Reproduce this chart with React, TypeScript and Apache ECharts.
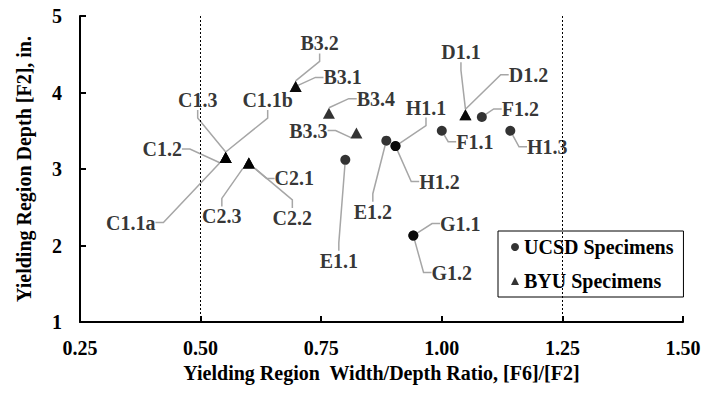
import React, { useEffect, useRef } from "react";
import * as echarts from "echarts";

// UCSD specimens
const ucsdNames = ["E1.1", "E1.2", "F1.1", "F1.2", "G1.1", "G1.2", "H1.1", "H1.2", "H1.3"];
const ucsdX = [0.8, 0.885, 1.0, 1.083, 0.941, 0.941, 0.904, 0.904, 1.142];
const ucsdY = [3.12, 3.37, 3.5, 3.68, 2.13, 2.13, 3.3, 3.3, 3.5];

// BYU specimens
const byuNames = ["B3.1", "B3.2", "B3.3", "B3.4", "C1.1a", "C1.1b", "C1.2", "C1.3", "C2.1", "C2.2", "C2.3", "D1.1", "D1.2"];
const byuX = [0.697, 0.697, 0.823, 0.766, 0.552, 0.552, 0.552, 0.552, 0.6, 0.6, 0.6, 1.049, 1.049];
const byuY = [4.08, 4.08, 3.47, 3.73, 3.15, 3.15, 3.15, 3.15, 3.08, 3.08, 3.08, 3.71, 3.71];

const xTicks = [0.25, 0.5, 0.75, 1.0, 1.25, 1.5];
const yTicks = [1, 2, 3, 4, 5];
const refLinesX = [0.5, 1.25];

// label offsets (px) from the marker centre – styling only
const LABEL_OFFSETS: Record<string, [number, number]> = {
  "B3.2": [24, -43],
  "B3.1": [47, -9],
  "B3.4": [47, -14.5],
  "B3.3": [-48, -2.5],
  "C1.3": [-28, -57.5],
  "C1.1b": [42, -57.5],
  "C1.2": [-63.5, -8.5],
  "C1.1a": [-95, 65],
  "C2.1": [45.5, 15.5],
  "C2.3": [-27, 53.5],
  "C2.2": [43.5, 55],
  "E1.1": [-6.5, 101],
  "E1.2": [-13.5, 71],
  "H1.1": [30.5, -38.5],
  "H1.2": [44, 35.5],
  "D1.1": [-4.5, -62.5],
  "D1.2": [63, -40],
  "F1.2": [38.5, -8],
  "F1.1": [33, 11],
  "H1.3": [37, 16],
  "G1.1": [47, -12],
  "G1.2": [38.5, 37],
};

const FONT = '"Liberation Serif", "Times New Roman", serif';

export default function App() {
  const ref = useRef<HTMLDivElement>(null);
  useEffect(() => {
    if (!ref.current) return;
    const chart = echarts.init(ref.current, null, { renderer: "svg" });
    const textBase = { fontFamily: FONT, fontWeight: "bold" as const, color: "#000", fontSize: 20 };
    const labelCfg = {
      show: true,
      position: "inside",
      formatter: "{b}",
      ...textBase,
    };
    const labelLineCfg = {
      show: true,
      length2: 8,
      lineStyle: { color: "#a6a6a6", width: 1.5 },
    };
    const labelLayout = (p: any) => {
      const o = LABEL_OFFSETS[p.text] || [0, 0];
      const cx = p.rect.x + p.rect.width / 2;
      const cy = p.rect.y + p.rect.height / 2;
      return { x: cx + o[0], y: cy + o[1], align: "center", verticalAlign: "middle" };
    };
    chart.setOption({
      animation: false,
      backgroundColor: "#fff",
      grid: { left: 80, right: 21, top: 16, bottom: 72, containLabel: false, outerBoundsMode: "none" },
      xAxis: {
        type: "value",
        min: xTicks[0],
        max: xTicks[xTicks.length - 1],
        interval: 0.25,
        name: "Yielding Region  Width/Depth Ratio, [F6]/[F2]",
        nameLocation: "middle",
        nameGap: 40,
        nameTextStyle: { ...textBase },
        axisLine: { show: true, lineStyle: { color: "#000", width: 2 } },
        axisTick: { show: true, inside: true, length: 6, lineStyle: { color: "#000", width: 2 } },
        axisLabel: { ...textBase, margin: 16, formatter: (v: number) => v.toFixed(2) },
        splitLine: { show: false },
      },
      yAxis: {
        type: "value",
        min: yTicks[0],
        max: yTicks[yTicks.length - 1],
        interval: 1,
        name: "Yielding Region Depth [F2], in.",
        nameLocation: "middle",
        nameGap: 46,
        nameTextStyle: { ...textBase },
        axisLine: { show: true, lineStyle: { color: "#000", width: 2 } },
        axisTick: { show: true, inside: true, length: 6, lineStyle: { color: "#000", width: 2 } },
        axisLabel: { ...textBase, margin: 18 },
        splitLine: { show: false },
      },
      legend: {
        orient: "vertical",
        left: 498,
        top: 231,
        padding: [6, 10, 6, 13],
        itemGap: 14,
        itemWidth: 8,
        itemHeight: 8,
        borderColor: "#000",
        borderWidth: 1,
        textStyle: { ...textBase },
        data: [
          { name: "UCSD Specimens", icon: "circle" },
          { name: "BYU Specimens", icon: "triangle" },
        ],
      },
      series: [
        {
          name: "UCSD Specimens",
          type: "scatter",
          symbol: "circle",
          symbolSize: 10,
          itemStyle: { color: "#000" },
          data: ucsdNames.map((n, i) => ({ name: n, value: [ucsdX[i], ucsdY[i]] })),
          label: labelCfg,
          labelLine: labelLineCfg,
          labelLayout,
          markLine: {
            silent: true,
            symbol: ["none", "none"],
            label: { show: false },
            lineStyle: { color: "#000", width: 1, type: [2, 2] },
            data: refLinesX.map((v) => ({ xAxis: v })),
          },
        },
        {
          name: "BYU Specimens",
          type: "scatter",
          symbol: "triangle",
          symbolSize: [12, 11],
          itemStyle: { color: "#000" },
          data: byuNames.map((n, i) => ({ name: n, value: [byuX[i], byuY[i]] })),
          label: labelCfg,
          labelLine: labelLineCfg,
          labelLayout,
        },
      ],
    });
    return () => chart.dispose();
  }, []);
  return <div ref={ref} style={{ position: "fixed", left: 0, top: 0, width: 704, height: 394 }} />;
}
